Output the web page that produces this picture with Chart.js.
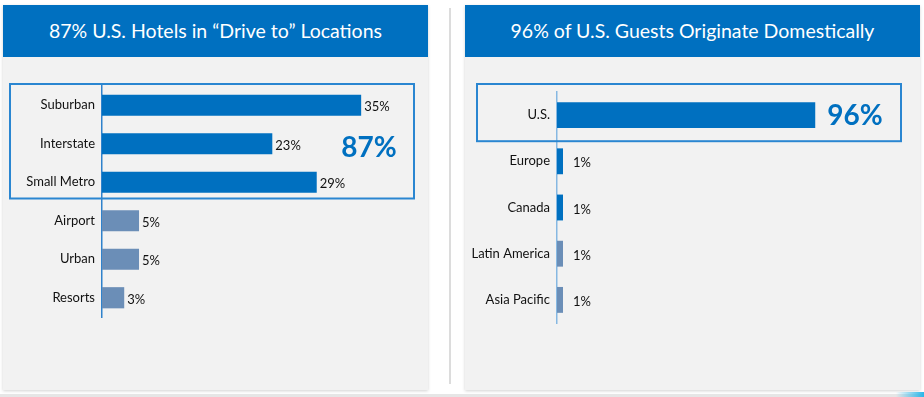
<!DOCTYPE html>
<html>
<head>
<meta charset="utf-8">
<script src="https://cdn.jsdelivr.net/npm/chart.js@4.4.1/dist/chart.umd.min.js"></script>
<style>
    body { margin: 0; width: 924px; height: 397px; position: relative; overflow: hidden; background: #fff; font-family: Lato, sans-serif; }
    .panel { position: absolute; top: 5px; height: 385px; background: #f2f2f2; box-shadow: 0 1px 3px rgba(0,0,0,0.18); }
    .title { height: 52px; background: #0070c0; color: #fff; font-size: 19.5px; line-height: 52px; text-align: center; }
    .panel canvas { position: absolute; left: 0; top: 52px; }
    .sep { position: absolute; left: 449px; top: 8px; width: 2px; height: 376px; background: #dcdcdc; }
    .foot { position: absolute; left: 0; top: 394px; width: 924px; height: 3px; background: #e6e6e6; }
    .accent { position: absolute; left: 896px; top: 392px; width: 28px; height: 5px; background: linear-gradient(90deg, rgba(41,182,232,0), #29b6e8); }
</style>
</head>
<body>
<div class="panel" style="left:3px; width:425px;">
    <div class="title">87% U.S. Hotels in “Drive to” Locations</div>
    <canvas id="driveChart" width="425" height="333"></canvas>
</div>
<div class="sep"></div>
<div class="panel" style="left:465px; width:455px;">
    <div class="title">96% of U.S. Guests Originate Domestically</div>
    <canvas id="originChart" width="455" height="333"></canvas>
</div>
<div class="foot"></div>
<div class="accent"></div>

<script>
const driveLabels = ['Suburban', 'Interstate', 'Small Metro', 'Airport', 'Urban', 'Resorts'];
const driveValues = [35, 23, 29, 5, 5, 3];
const driveHighlighted = 3;

const originLabels = ['U.S.', 'Europe', 'Canada', 'Latin America', 'Asia Pacific'];
const originValues = [96, 1, 1, 1, 1];
const originHighlighted = 3;

const BLUE = '#0070c0';
const GREY_BLUE = '#6b8eb7';

// value labels, highlight box and the big total
const panelDecor = {
    id: 'panelDecor',
    afterDatasetsDraw(chart, args, opts) {
        const ctx = chart.ctx;
        const y = chart.scales.y;
        const meta = chart.getDatasetMeta(0);
        const values = chart.data.datasets[0].data;
        ctx.save();
        ctx.font = '13px Lato';
        ctx.fillStyle = '#111';
        ctx.textBaseline = 'middle';
        ctx.textAlign = 'left';
        meta.data.forEach((bar, i) => {
            if (i < opts.skipLabels) return;
            ctx.fillText(values[i] + '%', bar.x + opts.labelGap, bar.y + 2);
        });

        const band = y.getPixelForValue(1) - y.getPixelForValue(0);
        const top = y.getPixelForValue(0) - band / 2 - opts.growTop;
        const bottom = y.getPixelForValue(opts.boxRows - 1) + band / 2 + opts.growBottom;
        ctx.strokeStyle = '#2a86d1';
        ctx.lineWidth = 2;
        ctx.strokeRect(opts.boxLeft, top, opts.boxRight - opts.boxLeft, bottom - top);

        ctx.font = 'bold 28px Lato';
        ctx.fillStyle = BLUE;
        ctx.textAlign = 'center';
        ctx.fillText(opts.bigText, opts.bigX, (top + bottom) / 2 + opts.bigDy);
        ctx.restore();
    }
};

function barOptions(axisWidth, axisColor, xMax, padding, decor) {
    return {
        indexAxis: 'y',
        responsive: false,
        animation: false,
        layout: { padding: padding },
        plugins: {
            legend: { display: false },
            tooltip: { enabled: false },
            panelDecor: decor
        },
        scales: {
            x: { display: false, min: 0, max: xMax },
            y: {
                grid: { display: false, drawTicks: false },
                border: { color: axisColor, width: 1.5 },
                ticks: { color: '#111', padding: 7, font: { family: 'Lato', size: 13 } },
                afterFit: s => { s.width = axisWidth; }
            }
        }
    };
}

const driveItem = document.getElementById('driveChart');
if (driveItem) {
    new Chart(driveItem, {
        type: 'bar',
        data: {
            labels: driveLabels,
            datasets: [{
                data: driveValues,
                backgroundColor: ctx => ctx.dataIndex < driveHighlighted ? BLUE : GREY_BLUE,
                barPercentage: 0.55,
                categoryPercentage: 1
            }]
        },
        options: barOptions(99, '#2f82cc', 42, { top: 29, bottom: 73, left: 0, right: 15 }, {
            labelGap: 3,
            skipLabels: 0,
            boxRows: driveHighlighted,
            growTop: 2,
            growBottom: -3,
            boxLeft: 7,
            boxRight: 411,
            bigText: driveValues.slice(0, driveHighlighted).reduce((a, b) => a + b, 0) + '%',
            bigX: 366,
            bigDy: 7
        }),
        plugins: [panelDecor]
    });
}
// End driveChart

const originItem = document.getElementById('originChart');
if (originItem) {
    new Chart(originItem, {
        type: 'bar',
        data: {
            labels: originLabels,
            datasets: [{
                data: originValues,
                backgroundColor: ctx => ctx.dataIndex < originHighlighted ? BLUE : GREY_BLUE,
                barPercentage: 0.56,
                categoryPercentage: 1,
                minBarLength: 6
            }]
        },
        options: barOptions(92, '#86b8e2', 100, { top: 35, bottom: 67, left: 0, right: 94 }, {
            labelGap: 10,
            skipLabels: 1,
            boxRows: 1,
            growTop: 8,
            growBottom: 3,
            boxLeft: 12,
            boxRight: 436,
            bigText: originValues[0] + '%',
            bigX: 390,
            bigDy: 3
        }),
        plugins: [panelDecor]
    });
}
// End originChart
</script>
</body>
</html>
